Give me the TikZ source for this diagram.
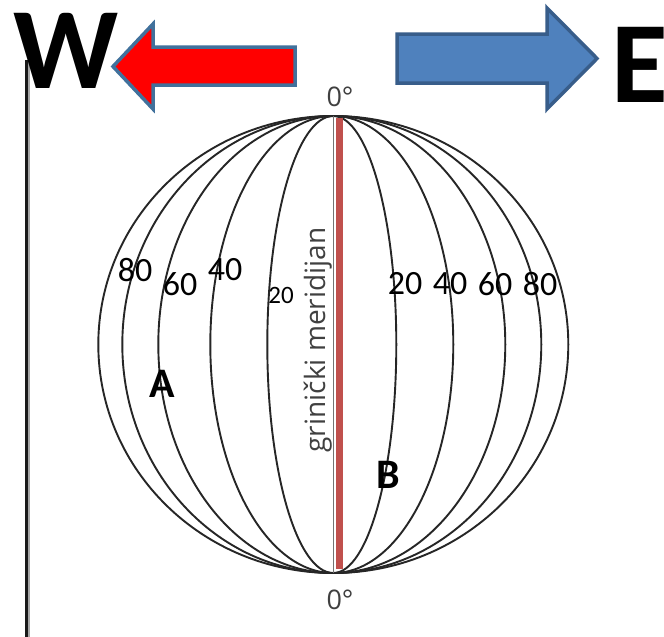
\documentclass[tikz,border=0pt]{standalone}
\usepackage{fontspec}
\setmainfont{Carlito}
\newfontfamily\osans{Open Sans}
\definecolor{redfill}{HTML}{FF0000}
\definecolor{rededge}{HTML}{41719C}
\definecolor{bluefill}{HTML}{4F81BD}
\definecolor{blueedge}{HTML}{385D8A}
\definecolor{gmred}{HTML}{C0504D}
\definecolor{txtgray}{HTML}{404040}
\tikzset{
  mer/.style={draw=black!85, line width=1.9pt},
  bigletter/.style={inner sep=0pt, font=\fontsize{116}{116}\selectfont\bfseries},
  numlbl/.style={inner sep=0pt, font=\fontsize{34}{34}\selectfont},
  smalllbl/.style={inner sep=0pt, font=\fontsize{25}{25}\selectfont},
  ptlbl/.style={inner sep=0pt, font=\fontsize{42}{42}\selectfont\bfseries},
  degl/.style={inner sep=0pt, text=txtgray, font=\osans\fontsize{27}{27}\selectfont},
  meridl/.style={inner sep=0pt, text=txtgray, rotate=90, font=\osans\fontsize{28}{28}\selectfont},
  arrowshape/.style={line width=3.5pt, line join=miter}
}
\begin{document}
\begin{tikzpicture}[x=1pt,y=-1pt]
\useasboundingbox (0,0) rectangle (664,637);
\fill[white] (0,0) rectangle (664,637);

% left vertical line
\coordinate (vt) at (26.5,60);
\coordinate (vb) at (26.5,637);
\draw[line width=3.2pt, black!90] (vt) -- (vb);
\draw[line width=1.4pt, black!35] ([xshift=2.4pt]vt) -- ([xshift=2.4pt]vb);

% arrows
\filldraw[arrowshape, fill=redfill, draw=rededge]
  (295,47) -- (153,47) -- (153,24) -- (113,66.5) -- (153,109) -- (153,85) -- (295,85) -- cycle;
\filldraw[arrowshape, fill=bluefill, draw=blueedge]
  (397,34) -- (547,34) -- (547,8) -- (597,58.5) -- (547,109) -- (547,83) -- (397,83) -- cycle;

\node[bigletter, anchor=base] (W) at (66,88) {W};
\node[bigletter, anchor=base west] (E) at (611,102) {E};

% globe
\coordinate (c) at (333.3,344.5);
\coordinate (np) at (333.3,116);
\coordinate (sp) at (333.3,573);
\draw[mer] (c) ellipse [x radius=235pt, y radius=228.5pt];
\foreach \a in {211,175,123,66}
  \draw[mer] (np) arc[start angle=90, end angle=270, x radius=\a pt, y radius=228.5pt];
\foreach \a in {63,120,172,208}
  \draw[mer] (np) arc[start angle=90, end angle=-90, x radius=\a pt, y radius=228.5pt];

% Greenwich meridian
\draw[black!55, line width=1.3pt] (np) -- (sp);
\fill[gmred] (336,118) rectangle (342.5,569);

\node[degl] (d1) at (340,97) {0°};
\node[degl] (d2) at (340,600) {0°};
\node[meridl] (gm) at (318,340) {grinički meridijan};

% labels
\node[numlbl] (w80) at (135,270) {80};
\node[numlbl] (w60) at (180,284) {60};
\node[numlbl] (w40) at (225,270) {40};
\node[smalllbl] (w20) at (281,295) {20};
\node[numlbl] (e20) at (405,284) {20};
\node[numlbl] (e40) at (450,284) {40};
\node[numlbl] (e60) at (495,284) {60};
\node[numlbl] (e80) at (540,284) {80};

\node[ptlbl] (A) at (162,384) {A};
\node[ptlbl] (B) at (388,475) {B};
\end{tikzpicture}
\end{document}
